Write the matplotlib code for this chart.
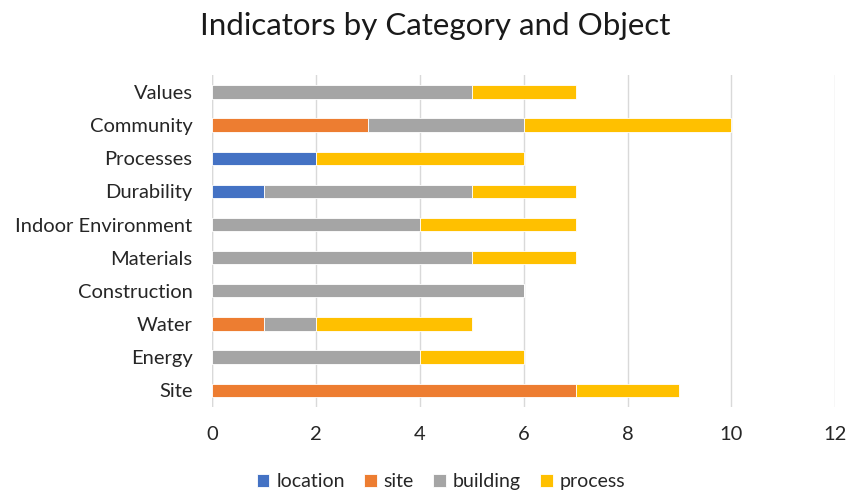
import numpy as np
import matplotlib.pyplot as plt

plt.rcParams['font.family'] = ['Lato', 'DejaVu Sans']

categories = ['Site', 'Energy', 'Water', 'Construction', 'Materials',
              'Indoor Environment', 'Durability', 'Processes', 'Community', 'Values']
location = [0, 0, 0, 0, 0, 0, 1, 2, 0, 0]
site = [7, 0, 1, 0, 0, 0, 0, 0, 3, 0]
building = [0, 4, 1, 6, 5, 4, 4, 0, 3, 5]
process = [2, 2, 3, 0, 2, 3, 2, 4, 4, 2]

series = [('location', location, '#4472C4'),
          ('site', site, '#ED7D31'),
          ('building', building, '#A5A5A5'),
          ('process', process, '#FFC000')]

fig = plt.figure(figsize=(8.48, 4.93), dpi=100)
ax = fig.add_axes([0.25, 0.175, 0.735, 0.672])

y = np.arange(len(categories))
left = np.zeros(len(categories))
for name, vals, col in series:
    ax.barh(y, vals, left=left, height=0.4, color=col, edgecolor='white',
            linewidth=0.6, label=name, zorder=3)
    left += np.array(vals)

ax.set_xlim(0, 12)
ax.set_ylim(-0.5, len(categories) - 0.5)
ax.set_xticks(range(0, 13, 2))
ax.set_yticks(y)
ax.set_yticklabels(categories)
ax.tick_params(axis='both', length=0, labelsize=14.5, colors='#262626')
ax.tick_params(axis='x', pad=14)
ax.tick_params(axis='y', pad=14)
ax.grid(axis='x', color='#D9D9D9', linewidth=1, zorder=0)
for s in ax.spines.values():
    s.set_visible(False)
ax.axvline(0, color='#D9D9D9', linewidth=1, zorder=1)

fig.suptitle('Indicators by Category and Object', fontsize=22.5, x=0.513, y=0.975,
             color='#1a1a1a')
fig.legend(loc='lower center', ncol=4, frameon=False, fontsize=14,
           bbox_to_anchor=(0.52, -0.03), handlelength=0.65, handleheight=0.65,
           columnspacing=1.0, handletextpad=0.35, labelcolor='#262626')

fig.savefig('out.png', dpi=100)
